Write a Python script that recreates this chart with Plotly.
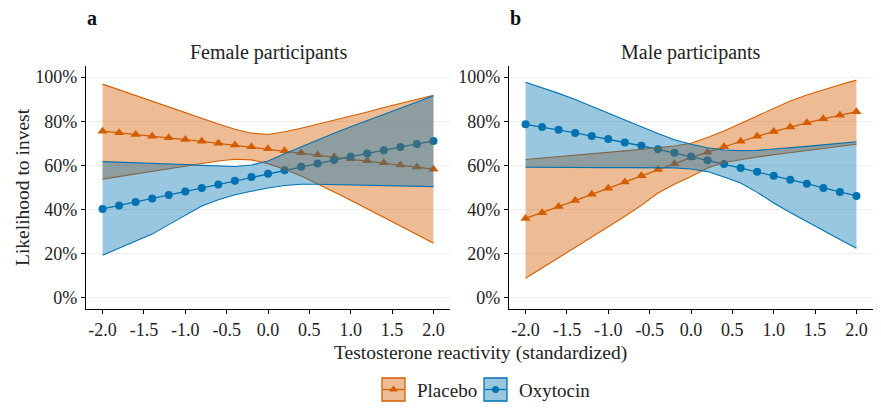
import plotly.graph_objects as go

# ---------------- data ----------------
x = [-2.0, -1.8, -1.6, -1.4, -1.2, -1.0, -0.8, -0.6, -0.4, -0.2, 0.0,
     0.2, 0.4, 0.6, 0.8, 1.0, 1.2, 1.4, 1.6, 1.8, 2.0]

# Female participants (panel a), likelihood to invest in %
plc_f    = [75.5, 74.8, 74.0, 73.2, 72.5, 71.7, 70.9, 70.0, 69.2, 68.4, 67.5,
            66.6, 65.7, 64.8, 63.9, 63.0, 62.1, 61.2, 60.2, 59.3, 58.3]
plc_f_hi = [96.8, 94.2, 91.6, 89.0, 86.4, 83.8, 81.2, 78.7, 76.4, 74.6, 74.0,
            75.2, 76.8, 78.6, 80.6, 82.4, 84.2, 86.2, 88.1, 90.0, 91.8]
plc_f_lo = [53.8, 55.0, 56.1, 57.3, 58.4, 59.6, 60.8, 62.0, 62.8, 62.5, 60.8,
            58.3, 55.2, 51.7, 48.0, 44.2, 40.4, 36.5, 32.6, 28.7, 24.8]
oxy_f    = [40.3, 41.9, 43.4, 45.0, 46.6, 48.2, 49.8, 51.4, 53.1, 54.7, 56.2,
            57.8, 59.4, 60.9, 62.5, 64.0, 65.4, 66.9, 68.3, 69.7, 71.0]
oxy_f_hi = [61.7, 61.5, 61.3, 61.0, 60.7, 60.4, 60.0, 59.7, 59.5, 60.2, 62.0,
            65.3, 68.5, 71.7, 74.6, 77.5, 80.2, 83.0, 85.9, 88.7, 91.5]
oxy_f_lo = [19.3, 22.5, 25.7, 28.9, 33.2, 37.5, 41.6, 44.5, 46.7, 48.3, 49.8,
            50.9, 51.5, 51.5, 51.3, 51.1, 50.9, 50.8, 50.6, 50.5, 50.4]

# Male participants (panel b)
plc_m    = [36.0, 38.6, 41.4, 44.1, 46.9, 49.7, 52.5, 55.3, 58.1, 60.8, 63.5,
            66.0, 68.5, 70.9, 73.2, 75.3, 77.4, 79.3, 81.1, 82.7, 84.3]
plc_m_hi = [62.7, 63.3, 63.9, 64.6, 65.2, 65.9, 66.6, 67.3, 68.0, 68.8, 70.0,
            72.6, 75.6, 79.0, 82.6, 86.1, 89.2, 91.9, 94.3, 96.5, 98.6]
plc_m_lo = [8.9, 13.5, 18.2, 23.0, 27.6, 32.2, 37.0, 41.9, 47.5, 51.5, 55.0,
            58.8, 61.3, 62.7, 63.8, 64.8, 65.7, 66.6, 67.5, 68.6, 69.6]
oxy_m    = [78.6, 77.4, 76.1, 74.7, 73.3, 71.9, 70.4, 68.9, 67.3, 65.7, 64.0,
            62.3, 60.6, 58.8, 57.1, 55.3, 53.5, 51.7, 49.8, 48.0, 46.2]
oxy_m_hi = [97.6, 95.2, 92.6, 89.8, 86.8, 83.8, 80.6, 77.5, 74.4, 71.6, 69.6,
            68.0, 67.0, 66.7, 66.8, 67.3, 67.9, 68.6, 69.3, 70.0, 70.7]
oxy_m_lo = [59.2, 59.1, 59.1, 59.0, 59.0, 59.0, 59.0, 59.0, 59.0, 58.9, 58.4,
            57.2, 54.8, 52.0, 47.8, 43.0, 38.7, 34.5, 30.5, 26.5, 22.5]

x_ticks = [-2.0, -1.5, -1.0, -0.5, 0.0, 0.5, 1.0, 1.5, 2.0]
x_ticklabels = ["-2.0", "-1.5", "-1.0", "-0.5", "0.0", "0.5", "1.0", "1.5", "2.0"]
y_ticks = [0, 20, 40, 60, 80, 100]
y_ticklabels = ["0%", "20%", "40%", "60%", "80%", "100%"]

groups = ["Placebo", "Oxytocin"]
panel_titles = ["Female participants", "Male participants"]
panel_letters = ["a", "b"]

# ---------------- style ----------------
FONT = "Liberation Serif"
ORANGE = "#D55E00"
BLUE = "#0072B2"
ORANGE_FILL = "rgba(213,94,0,0.42)"
BLUE_FILL = "rgba(0,114,178,0.40)"
W, H = 881, 409

fig = go.Figure()

panels = [
    ("x", "y", plc_f, plc_f_hi, plc_f_lo, oxy_f, oxy_f_hi, oxy_f_lo),
    ("x2", "y2", plc_m, plc_m_hi, plc_m_lo, oxy_m, oxy_m_hi, oxy_m_lo),
]

for xa, ya, p, phi, plo, o, ohi, olo in panels:
    # lines + markers first (ribbons are drawn over them)
    fig.add_trace(go.Scatter(x=x, y=p, xaxis=xa, yaxis=ya, mode="lines+markers",
                             line=dict(color=ORANGE, width=1.3),
                             marker=dict(symbol="triangle-up", size=9, color=ORANGE),
                             showlegend=False, hoverinfo="skip"))
    fig.add_trace(go.Scatter(x=x, y=o, xaxis=xa, yaxis=ya, mode="lines+markers",
                             line=dict(color=BLUE, width=1.3),
                             marker=dict(symbol="circle", size=8, color=BLUE),
                             showlegend=False, hoverinfo="skip"))
    for hi, lo, fc, lc in [(phi, plo, ORANGE_FILL, ORANGE), (ohi, olo, BLUE_FILL, BLUE)]:
        fig.add_trace(go.Scatter(x=x + x[::-1], y=hi + lo[::-1], xaxis=xa, yaxis=ya,
                                 mode="lines", fill="toself", fillcolor=fc,
                                 line=dict(width=0), showlegend=False, hoverinfo="skip"))
        for edge in (hi, lo):
            fig.add_trace(go.Scatter(x=x, y=edge, xaxis=xa, yaxis=ya, mode="lines",
                                     line=dict(color=lc, width=1.1),
                                     showlegend=False, hoverinfo="skip"))

# ---------------- axes ----------------
ydom = [1 - 309 / H, 1 - 66 / H]
xdoms = [[86 / W, 450 / W], [509 / W, 873 / W]]

common_x = dict(range=[-2.2, 2.2], tickvals=x_ticks, ticktext=x_ticklabels,
                ticks="outside", ticklen=4, tickwidth=1, tickcolor="black",
                showline=True, linecolor="black", linewidth=1.3, showgrid=False,
                zeroline=False, tickfont=dict(family=FONT, size=18, color="#222"),
                fixedrange=True)
common_y = dict(range=[-5, 105], tickvals=y_ticks, ticktext=y_ticklabels,
                ticks="outside", ticklen=4, tickwidth=1, tickcolor="black",
                showline=True, linecolor="black", linewidth=1.3, showgrid=True,
                gridcolor="#eeeeee", gridwidth=1, zeroline=False,
                tickfont=dict(family=FONT, size=18, color="#222"), fixedrange=True)

fig.update_layout(
    xaxis=dict(domain=xdoms[0], anchor="y", **common_x),
    yaxis=dict(domain=ydom, anchor="x", **common_y),
    xaxis2=dict(domain=xdoms[1], anchor="y2", **common_x),
    yaxis2=dict(domain=ydom, anchor="x2", **common_y),
    xaxis3=dict(domain=[0, 1], range=[0, W], visible=False, fixedrange=True, anchor="y3"),
    yaxis3=dict(domain=[0, 1], range=[H, 0], visible=False, fixedrange=True, anchor="x3"),
)

# ---------------- manual legend ----------------
legend_items = [
    (groups[0], 382, ORANGE, ORANGE_FILL, "triangle-up", 8),
    (groups[1], 484, BLUE, BLUE_FILL, "circle", 7),
]
shapes = []
for name, lx, col, fcol, sym, msz in legend_items:
    shapes.append(dict(type="rect", xref="x3", yref="y3", x0=lx, x1=lx + 23,
                       y0=378, y1=401, fillcolor=fcol, line=dict(color=col, width=1.3),
                       layer="above"))
    shapes.append(dict(type="line", xref="x3", yref="y3", x0=lx + 1, x1=lx + 22,
                       y0=389.5, y1=389.5, line=dict(color=col, width=1.3), layer="above"))
    fig.add_trace(go.Scatter(x=[lx + 11.5], y=[389.5], xaxis="x3", yaxis="y3",
                             mode="markers", marker=dict(symbol=sym, size=msz, color=col),
                             showlegend=False, hoverinfo="skip"))

annotations = []
for name, lx, col, fcol, sym, msz in legend_items:
    annotations.append(dict(text=name, x=(lx + 33) / W, y=1 - 390 / H, xref="paper",
                            yref="paper", xanchor="left", yanchor="middle",
                            showarrow=False, font=dict(family=FONT, size=19, color="#222")))

# panel titles and letters
for i, (t, l) in enumerate(zip(panel_titles, panel_letters)):
    cx = (xdoms[i][0] + xdoms[i][1]) / 2
    annotations.append(dict(text=t, x=cx, y=1 - 52 / H, xref="paper", yref="paper",
                            xanchor="center", yanchor="middle", showarrow=False,
                            font=dict(family=FONT, size=20, color="#222")))
    annotations.append(dict(text="<b>%s</b>" % l, x=[92, 515][i] / W, y=1 - 18 / H,
                            xref="paper", yref="paper", xanchor="center",
                            yanchor="middle", showarrow=False,
                            font=dict(family=FONT, size=20, color="#111")))

# axis titles
annotations.append(dict(text="Testosterone reactivity (standardized)", x=480 / W,
                        y=1 - 353 / H, xref="paper", yref="paper", xanchor="center",
                        yanchor="middle", showarrow=False,
                        font=dict(family=FONT, size=19.5, color="#222")))
annotations.append(dict(text="Likelihood to invest", x=22 / W, y=1 - 187 / H,
                        xref="paper", yref="paper", xanchor="center", yanchor="middle",
                        textangle=-90, showarrow=False,
                        font=dict(family=FONT, size=19.5, color="#222")))

fig.update_layout(
    width=W, height=H, margin=dict(l=0, r=0, t=0, b=0),
    paper_bgcolor="white", plot_bgcolor="rgba(0,0,0,0)",
    showlegend=False, shapes=shapes, annotations=annotations,
    font=dict(family=FONT),
)

fig.write_html("out.html", config={"displayModeBar": False})
